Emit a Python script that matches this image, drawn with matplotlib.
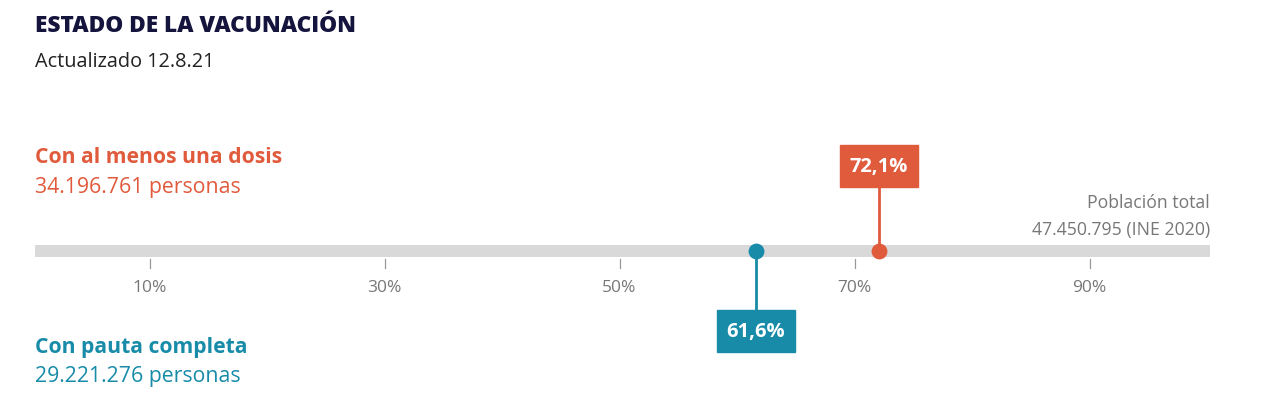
import matplotlib
matplotlib.use("Agg")
import matplotlib.pyplot as plt
from matplotlib.patches import Rectangle

plt.rcParams['font.family'] = ['Open Sans', 'DejaVu Sans']

# ---- data ----
title = "ESTADO DE LA VACUNACIÓN"
subtitle = "Actualizado 12.8.21"
series_names = ["Con al menos una dosis", "Con pauta completa"]
series_people = ["34.196.761 personas", "29.221.276 personas"]
series_pct = [72.1, 61.6]
series_labels = ["72,1%", "61,6%"]
tick_values = [10, 30, 50, 70, 90]
tick_labels = ["10%", "30%", "50%", "70%", "90%"]
total_label = ["Población total", "47.450.795 (INE 2020)"]

RED = "#e05a3c"
BLUE = "#178ba8"
NAVY = "#15143d"
GREY_T = "#777777"
BAR = "#d9d9d9"

W, H = 1282, 411
fig = plt.figure(figsize=(W / 100, H / 100), dpi=100)
ax = fig.add_axes([0, 0, 1, 1])
ax.set_axis_off()
# x in percent: 0% -> 32 px, 100% -> 1207 px
ppu = 11.75
x0 = 32
ax.set_xlim(-x0 / ppu, (W - x0) / ppu)
ax.set_ylim(H, 0)  # y in pixels from top

def fx(px):
    return (px - x0) / ppu

# header texts
ax.text(fx(35), 32, title, fontsize=16.3, fontweight=800, color=NAVY, va='baseline', ha='left')
ax.text(fx(35), 67, subtitle, fontsize=14.3, color="#222222", va='baseline', ha='left')

# series titles
ax.text(fx(35), 163, series_names[0], fontsize=15.25, fontweight='bold', color=RED, va='baseline')
ax.text(fx(35), 193, series_people[0], fontsize=15.3, color=RED, va='baseline')
ax.text(fx(35), 353, series_names[1], fontsize=15.25, fontweight='bold', color=BLUE, va='baseline')
ax.text(fx(35), 382, series_people[1], fontsize=15.3, color=BLUE, va='baseline')

# total population
ax.text(fx(1210), 208, total_label[0], fontsize=12.7, color=GREY_T, va='baseline', ha='right')
ax.text(fx(1210), 235, total_label[1], fontsize=12.7, color=GREY_T, va='baseline', ha='right')

# bar
bar_y, bar_h = 251, 12
ax.barh([bar_y], [100], left=0.25, height=bar_h, color=BAR, zorder=1)

# ticks
for v, lab in zip(tick_values, tick_labels):
    ax.plot([v, v], [259, 268], color="#999999", lw=0.9, zorder=1)
    ax.text(v, 292, lab, fontsize=12.5, color=GREY_T, ha='center', va='baseline')

# markers
box_w = 78 / ppu
box_h = 42
specs = [(RED, 145, 187), (BLUE, 310, 352)]
for (col, ytop, ybot), pct, lab in zip(specs, series_pct, series_labels):
    if ybot < bar_y:
        ax.plot([pct, pct], [ybot, bar_y], color=col, lw=2, zorder=2)
    else:
        ax.plot([pct, pct], [bar_y, ytop], color=col, lw=2, zorder=2)
    ax.scatter([pct], [bar_y], s=130, color=col, zorder=3, linewidths=0)
    ax.add_patch(Rectangle((pct - box_w / 2, ytop), box_w, box_h, color=col, zorder=4))
    ax.text(pct, (ytop + ybot) / 2 + 1, lab, fontsize=14.5, fontweight='bold', color='white',
            ha='center', va='center', zorder=5)

fig.savefig("out.png", dpi=100, facecolor='white')
